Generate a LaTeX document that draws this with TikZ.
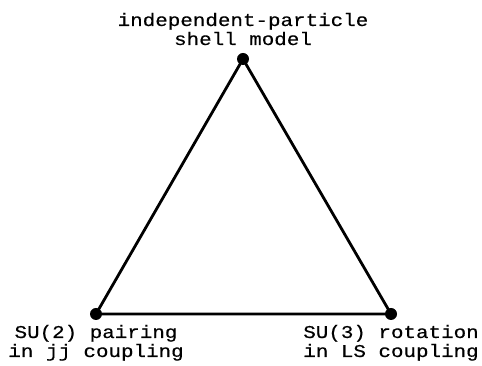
\documentclass[tikz,border=0pt]{standalone}
\usepackage{fontspec}
\newfontfamily\labfont[FakeStretch=1.16,FakeBold=0.4]{Liberation Mono}
\begin{document}
\begin{tikzpicture}[x=1pt,y=1pt,
  dot/.style={circle,fill=black,inner sep=0pt,minimum size=12pt},
  lab/.style={align=center,inner sep=0pt,font=\labfont\fontsize{18}{19}\selectfont},
  edge/.style={line width=2.8pt,line join=round}]
\useasboundingbox (0,0) rectangle (482,366);
\node[dot] (t) at (243,307) {};
\node[dot] (l) at (96,52) {};
\node[dot] (r) at (391,52) {};
\draw[edge] (t.center) -- (l.center) -- (r.center) -- cycle;
\node[lab,anchor=base] (tl) at (243,321) {independent-particle\\shell model};
\node[lab,anchor=base] (ll) at (96,9) {SU(2) pairing\\in jj coupling};
\node[lab,anchor=base] (rl) at (391,9) {SU(3) rotation\\in LS coupling};
\end{tikzpicture}
\end{document}
